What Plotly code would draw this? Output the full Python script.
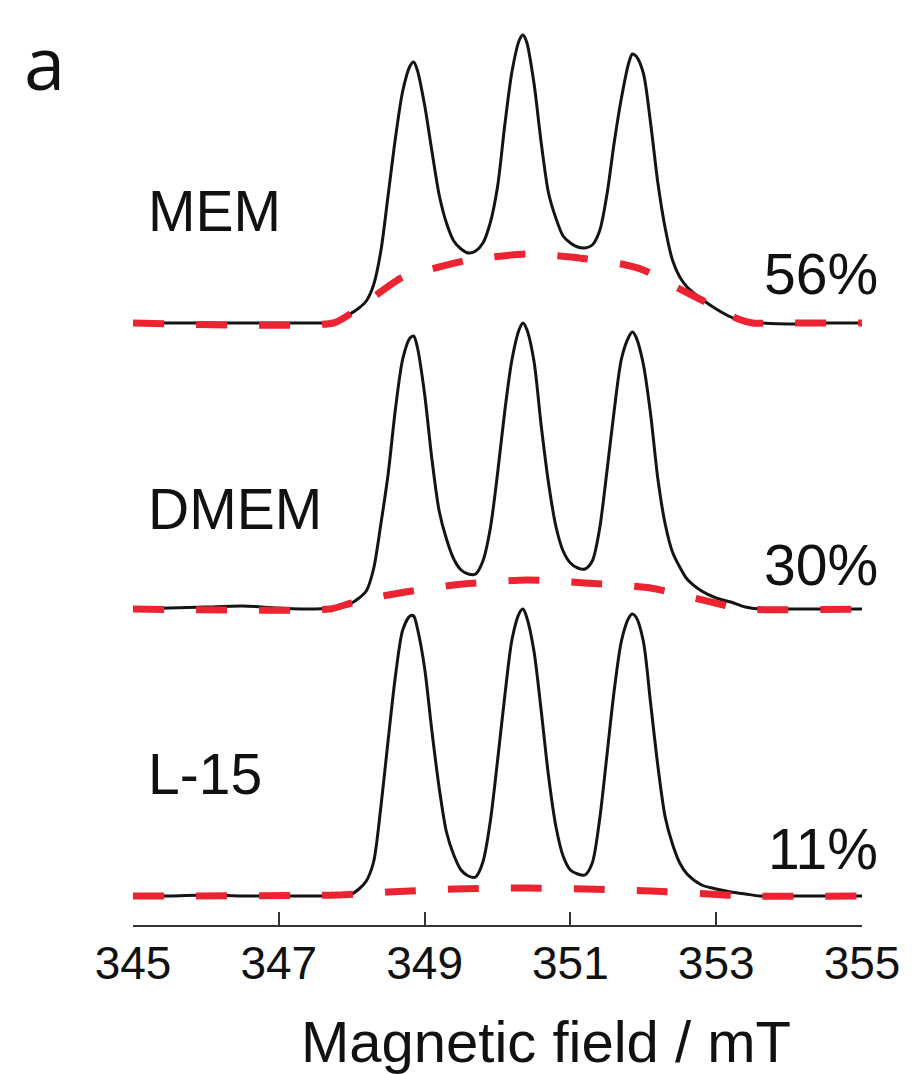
import plotly.graph_objects as go

# Magnetic field grid (mT) shared by the three measured spectra
field = [345.0, 345.5, 346.0, 346.5, 347.0, 347.5, 347.8, 348.0, 348.1, 348.2, 348.3, 348.4,
         348.5, 348.6, 348.7, 348.8, 348.85, 348.9, 349.0, 349.1, 349.2, 349.3, 349.4, 349.5,
         349.6, 349.7, 349.8, 349.9, 350.0, 350.1, 350.2, 350.3, 350.35, 350.4, 350.5, 350.6,
         350.7, 350.8, 350.9, 351.0, 351.1, 351.2, 351.3, 351.4, 351.5, 351.6, 351.7, 351.8,
         351.85, 351.9, 352.0, 352.1, 352.2, 352.3, 352.4, 352.5, 352.6, 352.8, 353.0, 353.2,
         353.4, 353.6, 354.0, 354.5, 355.0]

# Measured intensities (a.u.)
mem = [0, 0, 0, 0, 0, 0, 1, 10, 15, 22, 38, 72,
       128, 185, 232, 257, 261, 253, 218, 172, 128, 100, 82, 74,
       70, 72, 80, 100, 136, 198, 252, 283, 288, 281, 240, 180,
       130, 105, 87, 80, 76, 75, 78, 92, 128, 180, 225, 260,
       269, 267, 250, 200, 140, 95, 63, 46, 36, 24, 14, 6,
       1, 0, -1, 0, 0]
dmem = [0, 1, 2, 3, 1, 0, 2, 6, 11, 18, 40, 85,
        135, 200, 250, 271, 273, 262, 215, 150, 98, 70, 50, 39,
        35, 35, 48, 80, 135, 198, 250, 280, 286, 280, 248, 183,
        126, 83, 58, 46, 41, 40, 48, 80, 137, 198, 250, 272,
        277, 272, 245, 195, 130, 85, 57, 42, 30, 18, 11, 7,
        2, 0, 0, 0, 0]
l15 = [0, 0, 1, 0, 0, 0, 0, 2, 7, 15, 34, 89,
       156, 220, 266, 280, 280, 268, 228, 165, 108, 64, 41, 26,
       20, 19, 34, 74, 135, 200, 257, 283, 287, 279, 245, 185,
       120, 70, 40, 26, 22, 21, 33, 76, 140, 205, 255, 278,
       282, 279, 255, 193, 130, 79, 52, 33, 22, 11, 7, 4,
       2, 0, 0, 0, 0]

# Broad (immobilised) components, red dashed
mem_broad_x = [345.0, 347.75, 348.0, 348.3, 348.7, 349.2, 349.6, 350.4, 351.0, 351.7, 352.0,
               352.5, 352.8, 353.3, 353.5, 354.0, 355.0]
mem_broad_y = [0, 0, 10, 26, 46, 56, 63, 69, 66, 59, 53, 34, 23, 4, 0, 0, 0]
dmem_broad_x = [345.0, 347.7, 348.0, 348.5, 349.4, 350.4, 351.2, 352.1, 352.7, 353.1, 353.35, 355.0]
dmem_broad_y = [0, 0, 6, 14, 24, 29, 26, 21, 11, 4, 0, 0]
l15_broad_x = [345.0, 347.8, 348.5, 349.4, 350.4, 351.2, 352.1, 352.9, 353.4, 355.0]
l15_broad_y = [0, 1, 4, 7, 8, 7, 5, 2, 0, 0]

media = ["MEM", "DMEM", "L-15"]
fractions = ["56%", "30%", "11%"]
offsets = [602, 316, 29]          # vertical stacking offsets (a.u.)
label_y = [714, 416, 151]
frac_y = [651, 360, 76]
tick_vals = [345, 347, 349, 351, 353, 355]

BLACK = "#141414"
RED = "#EC2330"

fig = go.Figure()
spectra = [mem, dmem, l15]
broads = [(mem_broad_x, mem_broad_y), (dmem_broad_x, dmem_broad_y), (l15_broad_x, l15_broad_y)]
for spec, (bx, by), off in zip(spectra, broads, offsets):
    fig.add_trace(go.Scatter(x=field, y=[v + off for v in spec], mode="lines",
                             line=dict(color=BLACK, width=3, shape="spline", smoothing=0.8),
                             showlegend=False, hoverinfo="skip"))
    fig.add_trace(go.Scatter(x=bx, y=[v + off for v in by], mode="lines",
                             line=dict(color=RED, width=7, dash="31px,32px", shape="spline", smoothing=0.6),
                             showlegend=False, hoverinfo="skip"))

FONT = "Liberation Sans, Arial, sans-serif"
ann = []
for name, ly in zip(media, label_y):
    ann.append(dict(x=345.18, y=ly, xref="x", yref="y", text=name, showarrow=False,
                    xanchor="left", yanchor="middle", font=dict(size=57, color="#111", family=FONT)))
for frac, fy in zip(fractions, frac_y):
    ann.append(dict(x=1.0247, y=fy, xref="paper", yref="y", text=frac, showarrow=False,
                    xanchor="right", yanchor="middle", font=dict(size=57, color="#111", family=FONT)))
ann.append(dict(x=0.5665, y=-0.129, xref="paper", yref="paper", text="Magnetic field / mT",
                showarrow=False, xanchor="center", yanchor="middle",
                font=dict(size=58, color="#111", family=FONT)))
ann.append(dict(x=-0.121, y=0.954, xref="paper", yref="paper", text="a", showarrow=False,
                xanchor="center", yanchor="middle",
                font=dict(size=74, color="#111", family="Open Sans, sans-serif")))

fig.update_layout(
    width=914, height=1074,
    margin=dict(l=133, r=52, t=20, b=149),
    paper_bgcolor="white", plot_bgcolor="white",
    annotations=ann,
    xaxis=dict(range=[345, 355], tickvals=tick_vals, ticktext=[str(t) for t in tick_vals],
               ticks="inside", ticklen=13, tickwidth=2.2, tickcolor="#333",
               showline=True, linecolor="#333", linewidth=2.2, showgrid=False, zeroline=False,
               tickfont=dict(size=46, color="#111", family=FONT), ticklabelstandoff=-3),
    yaxis=dict(range=[0, 905], visible=False, showgrid=False, zeroline=False),
)
fig.write_html("out.html")
